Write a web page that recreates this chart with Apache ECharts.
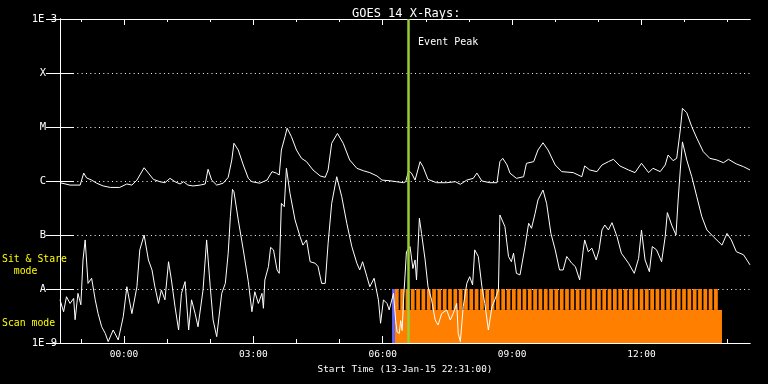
<!DOCTYPE html>
<html><head><meta charset="utf-8">
<script src="https://cdn.jsdelivr.net/npm/echarts@6/dist/echarts.min.js"></script>
<style>html,body{margin:0;padding:0;background:#000;}#c{width:768px;height:384px;}</style>
</head><body><div id="c"></div>
<script>
// ---- data (time = minutes after 13-Jan-15 22:31:00) ----
const START_CLOCK_MIN = 22 * 60 + 31;
const SPAN_MIN = 960;
const majorTicks = [89, 269, 449, 629, 809];
const minorTicks = [29, 89, 149, 209, 269, 329, 389, 449, 509, 569, 629, 689, 749, 809, 869, 929];
const yExponents = [-9, -8, -7, -6, -5, -4, -3];
const yTickLabels = ['1E-9', 'A', 'B', 'C', 'M', 'X', '1E-3'];
const EVENT_PEAK = 485;

const longChannel = [
 [0,9.3e-7],[14,8.4e-7],[28,8.4e-7],[33,1.4e-6],[37,1.14e-6],[44,1.04e-6],[51,9.1e-7],[60,8.1e-7],[70,7.6e-7],[83,7.6e-7],
 [93,8.8e-7],[100,8.4e-7],[107,1.04e-6],[117,1.76e-6],[123,1.4e-6],[130,1.07e-6],[139,9.7e-7],[146,9.3e-7],[153,1.12e-6],[160,9.7e-7],
 [167,8.8e-7],[172,9.7e-7],[178,8.4e-7],[185,8.1e-7],[195,8.4e-7],[202,8.8e-7],[206,1.65e-6],[211,1.04e-6],[218,8.4e-7],[227,9.1e-7],
 [234,1.17e-6],[239,2.45e-6],[242,5.0e-6],[248,3.75e-6],[255,1.98e-6],[262,1.12e-6],[267,9.7e-7],[278,9.1e-7],[288,1.04e-6],[295,1.49e-6],
 [301,1.4e-6],[305,1.29e-6],[308,3.75e-6],[313,6.6e-6],[316,9.5e-6],[322,6.6e-6],[329,3.75e-6],[336,2.63e-6],[343,2.28e-6],[352,1.6e-6],
 [362,1.24e-6],[369,1.17e-6],[373,1.6e-6],[378,5.0e-6],[386,7.6e-6],[394,5.0e-6],[403,2.45e-6],[413,1.72e-6],[422,1.55e-6],[431,1.43e-6],
 [441,1.24e-6],[448,1.04e-6],[459,1.01e-6],[468,9.7e-7],[478,9.3e-7],[481,9.7e-7],[485,1.55e-6],[489,1.4e-6],[494,1.04e-6],[501,2.28e-6],
 [505,1.84e-6],[512,1.07e-6],[524,9.3e-7],[538,9.3e-7],[550,9.7e-7],[557,8.7e-7],[566,1.04e-6],[575,1.12e-6],[580,1.4e-6],[587,1.0e-6],
 [598,9.3e-7],[608,9.3e-7],[612,2.28e-6],[616,2.63e-6],[622,1.98e-6],[626,1.4e-6],[635,1.12e-6],[645,1.2e-6],[649,2.13e-6],[659,2.28e-6],
 [665,3.75e-6],[672,5.1e-6],[679,3.75e-6],[689,1.98e-6],[698,1.49e-6],[714,1.43e-6],[726,1.2e-6],[730,1.9e-6],[737,1.6e-6],[747,1.49e-6],
 [754,1.98e-6],[763,2.28e-6],[770,2.52e-6],[779,1.9e-6],[791,1.6e-6],[800,1.43e-6],[809,2.13e-6],[819,1.43e-6],[825,1.72e-6],[835,1.49e-6],
 [842,1.98e-6],[846,3.03e-6],[853,2.38e-6],[858,2.63e-6],[863,8.8e-6],[866,2.22e-5],[872,1.84e-5],[879,1.01e-5],[886,6.2e-6],[895,3.49e-6],
 [904,2.63e-6],[914,2.45e-6],[923,2.18e-6],[930,2.52e-6],[941,2.07e-6],[951,1.84e-6],[960,1.6e-6]
];

const shortChannel = [
 [0,6.3e-9],[5,3.8e-9],[9,7.2e-9],[14,5.4e-9],[19,6.7e-9],[21,2.7e-9],[25,8.3e-9],[29,5.1e-9],[32,3.45e-8],[35,8.1e-8],
 [39,1.27e-8],[44,1.58e-8],[49,6.3e-9],[53,3.5e-9],[58,2.0e-9],[63,1.5e-9],[67,1.06e-9],[74,1.74e-9],[81,1.14e-9],[88,3.07e-9],
 [93,1.1e-8],[100,3.5e-9],[107,1.1e-8],[111,5.3e-8],[117,1.0e-7],[123,3.45e-8],[128,2.25e-8],[132,1.1e-8],[137,5.4e-9],[141,9.6e-9],
 [146,6.3e-9],[151,3.2e-8],[155,1.47e-8],[160,4.7e-9],[165,1.74e-9],[169,8.3e-9],[174,1.37e-8],[179,1.74e-9],[183,6.3e-9],[188,3.5e-9],
 [192,2.0e-9],[199,9.6e-9],[204,8.1e-8],[209,1.1e-8],[213,2.67e-9],[218,1.31e-9],[225,8.3e-9],[230,1.27e-8],[234,4.6e-8],[237,2.18e-7],
 [240,7.0e-7],[242,6.3e-7],[248,1.9e-7],[255,5.3e-8],[262,1.37e-8],[267,3.8e-9],[271,8.9e-9],[276,5.4e-9],[281,8.3e-9],[283,4.4e-9],
 [285,1.47e-8],[290,2.6e-8],[293,5.9e-8],[297,5.3e-8],[302,2.25e-8],[305,1.95e-8],[308,3.86e-7],[312,3.34e-7],[315,1.72e-6],[320,5.9e-7],
 [327,1.9e-7],[334,9.3e-8],[338,6.5e-8],[343,8.1e-8],[348,3.2e-8],[355,3.0e-8],[359,2.6e-8],[364,1.27e-8],[369,1.27e-8],[373,7.0e-8],
 [378,3.86e-7],[385,1.2e-6],[392,5.1e-7],[399,1.65e-7],[406,6.1e-8],[413,3.0e-8],[417,2.25e-8],[421,3.2e-8],[427,1.69e-8],[431,1.1e-8],
 [437,1.58e-8],[443,6.3e-9],[446,2.32e-9],[450,6.3e-9],[455,5.4e-9],[458,4.1e-9],[464,8.3e-9],[467,2.6e-9],[469,1.6e-9],[472,1.5e-9],
 [474,2.6e-9],[476,1.7e-9],[478,6.3e-9],
 [482,4.9e-8],[487,6.1e-8],[491,2.4e-8],[494,3.45e-8],[496,1.47e-8],[500,2.04e-7],[503,1.07e-7],[508,3.45e-8],[512,1.1e-8],[517,6.3e-9],
 [522,2.67e-9],[526,2.15e-9],[531,3.5e-9],[538,4.1e-9],[543,2.67e-9],[547,3.5e-9],[552,5.4e-9],[554,1.5e-9],[557,1.06e-9],[561,4.7e-9],
 [566,1.27e-8],[570,1.69e-8],[574,1.19e-8],[577,5.3e-8],[582,4.0e-8],[587,1.1e-8],[591,5.4e-9],[596,1.74e-9],[601,4.7e-9],[605,6.3e-9],
 [610,9.6e-9],[612,2.35e-7],[619,1.43e-7],[624,4.0e-8],[628,3.2e-8],[631,4.6e-8],[635,1.95e-8],[640,1.82e-8],[647,6.1e-8],[652,1.65e-7],
 [656,1.33e-7],[661,2.52e-7],[665,4.45e-7],[672,6.8e-7],[677,3.86e-7],[683,1.07e-7],[689,5.3e-8],[695,2.25e-8],[700,2.25e-8],[705,4.0e-8],
 [712,3.0e-8],[717,2.6e-8],[723,1.47e-8],[728,5.3e-8],[730,8.1e-8],[735,4.9e-8],[740,5.7e-8],[746,3.45e-8],[750,5.3e-8],[754,1.24e-7],
 [758,1.53e-7],[763,1.24e-7],[768,1.69e-7],[775,9.3e-8],[781,4.6e-8],[791,3.0e-8],[799,1.95e-8],[805,3.7e-8],[809,1.24e-7],[814,3.45e-8],
 [820,2.09e-8],[824,6.1e-8],[830,5.3e-8],[837,3.2e-8],[842,9.3e-8],[845,2.6e-7],[851,1.53e-7],[857,1.0e-7],[860,4.45e-7],[863,1.6e-6],
 [866,5.3e-6],[872,2.45e-6],[879,1.2e-6],[886,5.1e-7],[893,2.18e-7],[900,1.24e-7],[909,9.3e-8],[921,6.5e-8],[928,1.07e-7],[934,8.1e-8],
 [941,4.9e-8],[951,4.3e-8],[960,2.8e-8]
];

// observing-mode bars: [start, end] in minutes
const sitStareBlue = [[462, 466]];
const scanBlock = [[466, 921]];
const stareStripes = [
 [466,471.2],[473.4,478.6],[480.8,486],[488.2,493.4],[495.6,500.8],[503,508.2],[510.4,515.6],[517.8,523],[525.2,530.4],[532.6,537.8],
 [540,545.2],[547.4,552.6],[554.8,560],[562.2,567.4],[569.6,574.8],[577,582.2],[584.4,589.6],[591.8,597],[599.2,604.4],[606.6,611.8],
 [614,619.2],[621.4,626.6],[628.8,634],[636.2,641.4],[643.6,648.8],[651,656.2],[658.4,663.6],[665.8,671],[673.2,678.4],[680.6,685.8],
 [688,693.2],[695.4,700.6],[702.8,708],[710.2,715.4],[717.6,722.8],[725,730.2],[732.4,737.6],[739.8,745],[747.2,752.4],[754.6,759.8],
 [762,767.2],[769.4,774.6],[776.8,782],[784.2,789.4],[791.6,796.8],[799,804.2],[806.4,811.6],[813.8,819],[821.2,826.4],[828.6,833.8],
 [836,841.2],[843.4,848.6],[850.8,856],[858.2,863.4],[865.6,870.8],[873,878.2],[880.4,885.6],[887.8,893],[895.2,900.4],[902.6,907.8],[910,915.2]
];
const BAND_TOP = 1e-8, COMB_BOTTOM = 4.1e-9, BAND_BOTTOM = 1e-9;

// ---- chart ----
const FONT = 'DejaVu Sans Mono';
const WHITE = '#ffffff';
const chart = echarts.init(document.getElementById('c'), null, {renderer: 'canvas'});

function clock(v) {
  const m = ((START_CLOCK_MIN + Math.round(v)) % 1440 + 1440) % 1440;
  const h = Math.floor(m / 60), mm = m % 60;
  return String(h).padStart(2, '0') + ':' + String(mm).padStart(2, '0');
}

function rectSeries(data, lo, hi, color, z) {
  return {
    type: 'custom', xAxisIndex: 0, yAxisIndex: 0, z: z, silent: true, clip: true,
    data: data,
    renderItem: function (params, api) {
      const p0 = api.coord([api.value(0), lo]);
      const p1 = api.coord([api.value(1), hi]);
      return {type: 'rect', shape: {x: p0[0], y: p1[1], width: p1[0] - p0[0], height: p0[1] - p1[1]},
              style: {fill: color}};
    }
  };
}

const xBase = {
  type: 'value', min: 0, max: SPAN_MIN, gridIndex: 0,
  axisLine: {show: true, onZero: false, lineStyle: {color: WHITE, width: 1}},
  splitLine: {show: false}, minorTick: {show: false}
};

const modeLabels = [
  {type: 'text', left: 2, top: 253, style: {text: 'Sit & Stare\n  mode', fill: '#ffff00', font: '9.8px "DejaVu Sans Mono"', lineHeight: 12.5}},
  {type: 'text', left: 2, top: 318, style: {text: 'Scan mode', fill: '#ffff00', font: '9.8px "DejaVu Sans Mono"'}}
];

const option = {
  backgroundColor: '#000000',
  animation: false,
  title: {
    text: 'GOES 14 X-Rays:', left: 347, top: 3,
    textStyle: {color: WHITE, fontFamily: FONT, fontSize: 12, fontWeight: 'normal'}
  },
  grid: {left: 60, right: 18, top: 19, bottom: 41, containLabel: false, outerBoundsMode: 'none'},
  xAxis: [
    Object.assign({}, xBase, {
      position: 'bottom',
      axisTick: {show: true, inside: true, length: 7, customValues: majorTicks, lineStyle: {color: WHITE}},
      axisLabel: {show: true, customValues: majorTicks, formatter: clock, color: WHITE, fontFamily: FONT, fontSize: 9.5, margin: 7},
      name: 'Start Time (13-Jan-15 22:31:00)', nameLocation: 'middle', nameGap: 20,
      nameTextStyle: {color: WHITE, fontFamily: FONT, fontSize: 9.4}
    }),
    Object.assign({}, xBase, {
      position: 'bottom',
      axisTick: {show: true, inside: true, length: 4, customValues: minorTicks, lineStyle: {color: WHITE}},
      axisLabel: {show: false}
    }),
    Object.assign({}, xBase, {
      position: 'top',
      axisTick: {show: true, inside: true, length: 6, customValues: majorTicks, lineStyle: {color: WHITE}},
      axisLabel: {show: false}
    }),
    Object.assign({}, xBase, {
      position: 'top',
      axisTick: {show: true, inside: true, length: 3, customValues: minorTicks, lineStyle: {color: WHITE}},
      axisLabel: {show: false}
    })
  ],
  yAxis: [
    {
      type: 'log', logBase: 10, min: 1e-9, max: 1e-3, splitNumber: 6, position: 'left',
      axisLine: {show: true, lineStyle: {color: WHITE, width: 1}},
      axisTick: {show: true, inside: true, length: 14, lineStyle: {color: WHITE}},
      minorTick: {show: false},
      splitLine: {show: true, lineStyle: {color: WHITE, width: 1, type: [1, 3.33]}},
      axisLabel: {
        show: true, margin: 3, color: WHITE, fontFamily: FONT, fontSize: 10.5,
        formatter: function (v) {
          const e = Math.round(Math.log10(v));
          const i = yExponents.indexOf(e);
          if (i < 0) return '';
          const s = yTickLabels[i];
          return s.length > 1 ? '{n|' + s + '}' : '{c|' + s + '}';
        },
        rich: {
          n: {color: WHITE, fontFamily: FONT, fontSize: 10.5},
          c: {color: WHITE, fontFamily: FONT, fontSize: 10.5, width: 28, align: 'center'}
        }
      }
    },
    {
      type: 'log', logBase: 10, min: 1e-9, max: 1e-3, splitNumber: 6, position: 'right',
      axisLine: {show: true, lineStyle: {color: WHITE, width: 1}},
      axisTick: {show: true, inside: true, length: 14, lineStyle: {color: WHITE}},
      minorTick: {show: false},
      splitLine: {show: false}, axisLabel: {show: false}
    }
  ],
  series: [
    rectSeries(sitStareBlue, BAND_BOTTOM, BAND_TOP, '#6464ff', 1),
    rectSeries(scanBlock, BAND_BOTTOM, COMB_BOTTOM, '#ff8000', 1),
    rectSeries(stareStripes, COMB_BOTTOM, BAND_TOP, '#ff8000', 1),
    {
      name: 'long', type: 'line', xAxisIndex: 0, yAxisIndex: 0, data: longChannel, z: 3,
      showSymbol: false, symbol: 'none', smooth: false, lineStyle: {color: WHITE, width: 1},
      markLine: {
        silent: true, symbol: 'none', animation: false,
        lineStyle: {color: '#9acd32', width: 2.5, type: 'solid'},
        label: {show: false},
        data: [{xAxis: EVENT_PEAK}]
      }
    },
    {
      name: 'short', type: 'line', xAxisIndex: 0, yAxisIndex: 0, data: shortChannel, z: 3,
      showSymbol: false, symbol: 'none', smooth: false, lineStyle: {color: WHITE, width: 1}
    }
  ],
  graphic: modeLabels
};
chart.setOption(option);

const peakPx = chart.convertToPixel({xAxisIndex: 0}, EVENT_PEAK);
chart.setOption({
  graphic: modeLabels.concat([
    {type: 'text', x: peakPx + 9.5, y: 37, style: {text: 'Event Peak', fill: WHITE, font: '10px "DejaVu Sans Mono"'}}
  ])
});
</script>
</body></html>
